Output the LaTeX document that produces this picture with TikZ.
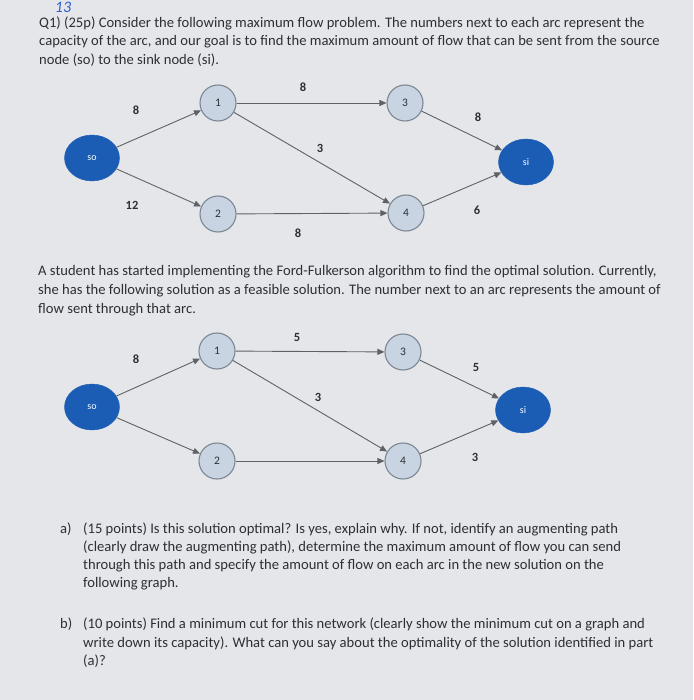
\documentclass[tikz,border=0pt]{standalone}
\usepackage{fontspec}
\setmainfont{Carlito}
\usetikzlibrary{arrows.meta,shapes.geometric}

\definecolor{paper}{HTML}{E5E6E9}
\definecolor{ink}{HTML}{2E2F33}
\definecolor{endblue}{HTML}{1B5CB5}
\definecolor{midfill}{HTML}{C8D4E2}
\definecolor{midline}{HTML}{7C8793}
\definecolor{arcgray}{HTML}{5E6166}
\definecolor{penblue}{HTML}{2F5FD0}

\tikzset{
  endnode/.style={ellipse, fill=endblue, draw=endblue, minimum width=55pt, minimum height=46pt,
                  inner sep=0pt, text=white, font=\fontsize{10}{10}\selectfont},
  midnode/.style={circle, fill=midfill, draw=midline, line width=1.1pt, minimum size=36pt,
                  inner sep=0pt, text=ink, font=\fontsize{11.5}{11.5}\selectfont},
  arc/.style={draw=arcgray, line width=0.9pt, -{Triangle[length=7pt,width=6pt]}},
  arclabel/.style={font=\bfseries\fontsize{12.5}{12.5}\selectfont, text=ink},
  txt/.style={anchor=base west, inner sep=0pt, text=ink, font=\fontsize{14.6}{14.6}\selectfont},
}

\begin{document}
\begin{tikzpicture}[x=1pt,y=-1pt]
  \fill[paper] (0,0) rectangle (693,700);
  \useasboundingbox (0,0) rectangle (693,700);

  % question text
  \node[txt] (q1) at (39,27.5) {Q1) (25p) Consider the following maximum flow problem. The numbers next to each arc represent the};
  \node[txt] (q2) at (39,46) {capacity of the arc, and our goal is to find the maximum amount of flow that can be sent from the source};
  \node[txt] (q3) at (39,64.5) {node (so) to the sink node (si).};
  \node[text=penblue, inner sep=0pt, font=\fontsize{16}{16}\selectfont\itshape] (grade) at (63,7.5) {13};

  % network with capacities
  \node[endnode] (so) at (92,158) {so};
  \node[midnode] (n1) at (218,103) {1};
  \node[midnode] (n2) at (218,214) {2};
  \node[midnode] (n3) at (405,103) {3};
  \node[midnode] (n4) at (406,213) {4};
  \node[endnode] (si) at (526,162) {si};

  \draw[arc] (so) -- (n1);
  \draw[arc] (so) -- (n2);
  \draw[arc] (n1) -- (n3);
  \draw[arc] (n1) -- (n4);
  \draw[arc] (n2) -- (n4);
  \draw[arc] (n3) -- (si);
  \draw[arc] (n4) -- (si);

  \node[arclabel] (c01) at (136,110) {8};
  \node[arclabel] (c02) at (132,205) {12};
  \node[arclabel] (c13) at (303,87) {8};
  \node[arclabel] (c14) at (320,148) {3};
  \node[arclabel] (c24) at (298,233) {8};
  \node[arclabel] (c3t) at (478,117) {8};
  \node[arclabel] (c4t) at (477,210) {6};

  % middle text
  \node[txt] (m1) at (38,275) {A student has started implementing the Ford-Fulkerson algorithm to find the optimal solution. Currently,};
  \node[txt] (m2) at (38,294) {she has the following solution as a feasible solution. The number next to an arc represents the amount of};
  \node[txt] (m3) at (38,313.5) {flow sent through that arc.};

  % network with current flow
  \node[endnode] (fso) at (92,407) {so};
  \node[midnode] (f1) at (217,351) {1};
  \node[midnode] (f2) at (217,461) {2};
  \node[midnode] (f3) at (403,352) {3};
  \node[midnode] (f4) at (403,461) {4};
  \node[endnode] (fsi) at (523,410) {si};

  \draw[arc] (fso) -- (f1);
  \draw[arc] (fso) -- (f2);
  \draw[arc] (f1) -- (f3);
  \draw[arc] (f1) -- (f4);
  \draw[arc] (f2) -- (f4);
  \draw[arc] (f3) -- (fsi);
  \draw[arc] (f4) -- (fsi);

  \node[arclabel] (x01) at (136,359) {8};
  \node[arclabel] (x13) at (297,337) {5};
  \node[arclabel] (x14) at (318,397) {3};
  \node[arclabel] (x3t) at (476,367) {5};
  \node[arclabel] (x4t) at (475,457) {3};

  % parts a and b
  \node[txt] (pa) at (60,533) {a)};
  \node[txt] (a1) at (83,533) {(15 points) Is this solution optimal? Is yes, explain why. If not, identify an augmenting path};
  \node[txt] (a2) at (83,551) {(clearly draw the augmenting path), determine the maximum amount of flow you can send};
  \node[txt] (a3) at (83,569.5) {through this path and specify the amount of flow on each arc in the new solution on the};
  \node[txt] (a4) at (83,587.5) {following graph.};
  \node[txt] (pb) at (60,628) {b)};
  \node[txt] (b1) at (83,628) {(10 points) Find a minimum cut for this network (clearly show the minimum cut on a graph and};
  \node[txt] (b2) at (83,647) {write down its capacity). What can you say about the optimality of the solution identified in part};
  \node[txt] (b3) at (83,665.5) {(a)?};
\end{tikzpicture}
\end{document}
